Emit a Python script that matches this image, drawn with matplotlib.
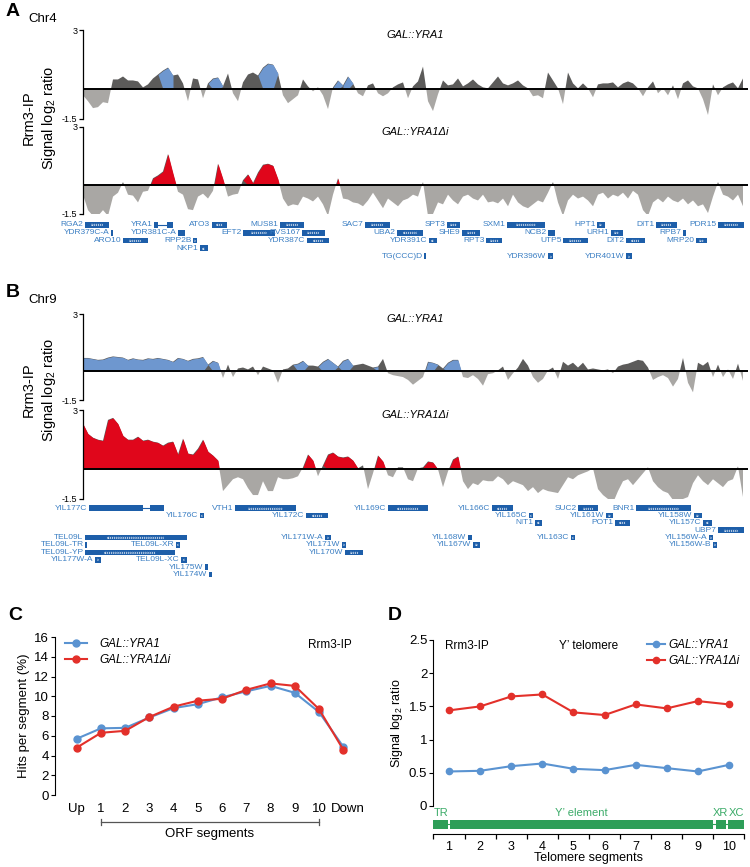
import numpy as np
import matplotlib
matplotlib.use('Agg')
import matplotlib.pyplot as plt
import matplotlib.transforms as mtrans
from matplotlib.ticker import FuncFormatter

plt.rcParams['font.family'] = ['Liberation Sans', 'DejaVu Sans']
plt.rcParams['mathtext.fontset'] = 'custom'
plt.rcParams['mathtext.rm'] = 'Liberation Sans'
plt.rcParams['mathtext.it'] = 'Liberation Sans:italic'

# ---- ChIP-chip tracks (log2 ratio, one value every 0.5 kb) ----
TRACK_START = 0.0
TRACK_STEP = 0.5

chr4_yra1 = [-0.3, -0.6, -0.95, -0.9, -0.65, -0.7,
             0.5, 0.5, 0.65, 0.45, 0.45, 0.4,
             0.1, 0.25, 0.55, 0.75, 0.95, 1.1,
             0.7, 0.75, 0.3, -0.6, 0.55, 0.5,
             -0.45, 0.3, 0.55, 0.6, 0.15, 0.8,
             -0.2, -0.6, 0.35, 0.75, 0.85, 0.7,
             1.1, 1.3, 1.25, 0.8, -0.3, -0.7,
             -0.5, -0.3, 0.5, 0.15, -0.1, 0.1,
             -0.3, -1.0, 0.1, 0.45, 0.2, 0.65,
             0.3, -0.2, -0.35, 0.2, 0.3, -0.2,
             -0.35, -0.2, 0.1, 0.25, 0.35, -0.45,
             0.15, 0.4, 1.15, -0.6, -1.1, -0.25,
             0.45, 0.2, 0.25, 0.55, 0.15, 0.3,
             0.5, 0.25, 0.1, 0.05, 0.35, 0.65,
             0.3, 0.2, 0.3, 0.45, 0.2, 0.05,
             -0.35, -0.3, -0.45, 0.85, 0.45, 0.05,
             -0.75, 0.85, 0.3, 0.05, 0.3, 0.05,
             -0.4, 0.25, 0.3, 0.3, 0.35, 0.1,
             0.3, 0.4, 0.3, 0.05, -0.35, 0.1,
             0.4, -0.2, 0.05, -0.3, 0.2, -0.5,
             0.3, 0.45, 0.15, 0.05, -0.5, -1.3,
             0.25, -0.3, 0.1, 0.25, 0.35, 0.05,
             0.55]
chr4_yra1_hits = [(7.7, 9.0), (13.0, 13.9), (17.7, 19.4), (25.2, 25.7), (26.0, 26.6)]

chr4_yra1di = [-0.5, -1.3, -1.6, -1.6, -1.3, -1.6,
               -0.6, -0.4, 0.15, -0.5, -0.55, -0.9,
               -0.35, -0.3, 0.35, 0.5, 0.7, 1.6,
               0.6, -0.35, -0.5, -1.25, -1.3, -0.6,
               -0.45, -0.7, -0.3, 1.1, 0.3, -0.6,
               -0.5, -0.45, 0.25, 0.55, 0.1, 0.65,
               1.05, 1.1, 1.0, 0.3, -0.7, -1.1,
               -1.0, -1.05, -0.6, -0.7, -0.85, -0.6,
               -1.0, -1.6, -0.5, 0.35, -0.7, -0.75,
               -0.9, -0.95, -1.1, -0.8, -0.4, -0.8,
               -1.2, -0.7, -0.9, -1.1, -0.8, -0.7,
               -0.5, -0.6, 0.15, -1.6, -1.5, -0.9,
               -1.0, -0.5, -0.8, -1.0, -0.6, -0.5,
               -0.7, -0.8, -0.5, -0.9, -0.85, -0.95,
               -0.7, -1.1, -0.5, -0.9, -1.1, -1.2,
               -1.0, -0.8, -0.9, -0.4, 0.15, -0.9,
               -1.6, -0.8, -0.5, -0.7, -0.6, -0.8,
               -1.1, -0.5, -0.4, -0.7, -0.5, -0.6,
               -0.4, -0.7, -0.3, -0.5, -1.3, -1.6,
               -0.9, -0.7, -0.9, -0.6, -0.8, -0.9,
               -0.7, -1.0, -0.8, -1.1, -1.0, -1.45,
               -0.6, 0.15, -0.5, -0.6, -0.8, -0.5,
               -1.1]
chr4_yra1di_hits = [(7.0, 9.3), (13.3, 14.2), (16.3, 19.5), (25.3, 25.8)]

chr9_yra1 = [0.7, 0.7, 0.65, 0.6, 0.62, 0.72,
             0.78, 0.75, 0.72, 0.6, 0.68, 0.62,
             0.6, 0.68, 0.65, 0.7, 0.65, 0.6,
             0.5, 0.7, 0.65, 0.55, 0.65, 0.68,
             0.75, 0.35, 0.55, 0.45, -0.35, 0.35,
             -0.3, 0.15, 0.2, 0.1, 0.25, -0.2,
             0.25, 0.15, 0.05, -0.6, 0.1, 0.15,
             0.35, 0.4, 0.55, 0.3, 0.3, 0.25,
             0.5, 0.65, 0.45, 0.25, 0.55, 0.65,
             0.3, 0.35, 0.4, 0.3, 0.2, 0.25,
             0.65, -0.1, -0.2, -0.25, -0.3, -0.45,
             -0.7, -0.5, -0.3, 0.5, 0.45, 0.35,
             0.15, 0.45, 0.6, 0.6, -0.3, -0.35,
             -0.2, -0.4, -0.75, -0.15, -0.1, 0.05,
             0.25, -0.45, -0.1, 0.2, 0.65, 0.3,
             -0.3, -0.6, -0.4, 0.05, 0.2, -0.4,
             0.5, 0.3, 0.45, 0.2, 0.45, 0.1,
             0.15, 0.1, 0.05, 0.1, -0.1, 0.25,
             0.35, 0.4, 0.5, 0.6, 0.55, 0.2,
             -0.45, -0.3, -0.2, -0.35, -0.8, -0.4,
             0.7, -0.6, -1.1, 0.45, 0.3, 0.5,
             -0.3, 0.35, -0.3, 0.1, -0.4, 0.4,
             -0.5]
chr9_yra1_hits = [(0, 12.3), (12.8, 13.8), (21.3, 22.3), (23.8, 25.0), (25.8, 26.8),
                  (29.3, 29.8), (34.2, 35.3), (36.2, 37.7)]

chr9_yra1di = [2.3, 1.8, 1.6, 1.5, 1.45, 2.5,
               2.6, 2.3, 1.7, 1.5, 1.5, 1.65,
               1.45, 1.5, 1.4, 1.35, 1.2, 1.35,
               1.4, 0.75, 1.55, 0.8, 0.75, 1.05,
               1.5, 0.9, 0.7, 0.45, -1.1, -0.8,
               -0.5, -0.4, -0.5, -0.95, -1.3, -1.3,
               -0.6, -1.1, -1.1, -0.4, -0.5, -0.5,
               -0.45, -0.35, 0.1, 0.75, 0.45, -0.35,
               0.2, 0.75, 0.85, 0.65, 0.6, 0.65,
               0.45, 0.05, 0.2, -1.0, -0.2, 0.7,
               0.4, -0.3, -0.4, 0.1, 0.1, -0.5,
               -0.6, 0.05, 0.1, 0.4, 0.35, 0.0,
               -0.9, -0.1, 0.5, 0.65, -0.6, -1.0,
               -0.7, -0.8, -0.55, -0.6, -0.6, -0.35,
               -0.5, -0.8, -0.6, -0.7, -0.8, -1.1,
               -0.9, -1.2, -1.0, -1.1, -1.15, -1.2,
               -0.8, -0.4, -0.5, -0.3, -0.2, -0.1,
               0.05, -1.0, -1.3, -1.5, -1.7, -1.1,
               -0.6, -0.5, -0.8, -0.5, -0.2, 0.1,
               -0.6, -0.9, -1.1, -1.2, -1.55, -1.6,
               -1.5, -1.4, -0.7, -0.3, -0.6, -0.8,
               -0.5, -0.7, -0.9, -0.6, -0.5, 0.15,
               -1.4]
chr9_yra1di_hits = [(0, 13.8), (22.2, 23.3), (24.2, 27.4), (29.3, 30.3), (34.2, 35.3), (36.8, 37.8)]

# ---- gene annotations (kb, row, strand) ----
chr4_genes = ['RGA2', 'YDR379C-A', 'ARO10', 'YRA1', 'YDR381C-A', 'RPP2B', 'NKP1', 'ATO3',
              'EFT2', 'MUS81', 'RVS167', 'YDR387C', 'SAC7', 'UBA2', 'YDR391C', 'TG(CCC)D',
              'SPT3', 'SHE9', 'RPT3', 'SXM1', 'NCB2', 'YDR396W', 'UTP5', 'HPT1', 'URH1',
              'DIT2', 'YDR401W', 'DIT1', 'RPB7', 'MRP20', 'PDR15']
chr4_start = [0.2, 2.8, 4.0, 7.1, 9.5, 11.0, 11.7, 12.9, 16.0, 19.7, 21.9, 22.4, 28.2, 31.4,
              34.6, 34.1, 36.4, 37.9, 40.3, 42.4, 46.5, 46.5, 48.0, 51.4, 52.8, 54.3, 54.3,
              57.3, 60.0, 61.3, 63.5]
chr4_end = [2.6, 3.0, 6.5, 9.0, 10.2, 11.4, 12.5, 14.4, 19.2, 22.1, 24.2, 24.6, 30.7, 34.0,
            35.4, 34.25, 37.7, 39.7, 41.9, 46.2, 47.2, 47.0, 50.5, 52.2, 54.0, 56.2, 54.9,
            59.4, 60.3, 62.4, 66.1]
chr4_row = [0, 1, 2, 0, 1, 2, 3, 0, 1, 0, 1, 2, 0, 1, 2, 4, 0, 1, 2, 0, 1, 4, 2, 0, 1, 2, 4,
            0, 1, 2, 0]
chr4_strand = ['+', '+', '+', '+', '', '+', '-', '-', '+', '+', '+', '-', '+', '-', '-', '',
               '+', '+', '+', '+', '', '+', '+', '+', '+', '-', '+', '+', '-', '+', '+']
chr4_introns = {'YRA1': (7.5, 8.4)}

chr9_genes = ['YIL177C', 'YIL176C', 'VTH1', 'YIL172C', 'YIL169C', 'YIL166C', 'YIL165C', 'NIT1',
              'SUC2', 'YIL161W', 'POT1', 'BNR1', 'YIL158W', 'YIL157C', 'UBP7',
              'TEL09L', 'TEL09L-TR', 'TEL09L-XR', 'TEL09L-YP', 'YIL177W-A', 'TEL09L-XC',
              'YIL175W', 'YIL174W', 'YIL171W-A', 'YIL171W', 'YIL170W', 'YIL168W', 'YIL167W',
              'YIL163C', 'YIL156W-A', 'YIL156W-B']
chr9_start = [0.6, 11.7, 15.2, 22.3, 30.5, 40.9, 44.6, 45.2, 49.5, 52.3, 53.2, 55.3, 61.1,
              62.0, 63.5, 0.2, 0.2, 9.3, 0.2, 1.2, 9.8, 12.2, 12.6, 24.2, 25.9, 26.2, 38.5,
              39.0, 48.8, 62.6, 63.0]
chr9_end = [8.1, 12.1, 21.3, 24.5, 34.5, 43.0, 45.0, 45.9, 51.5, 53.0, 54.7, 60.8, 61.9,
            62.9, 66.1, 10.4, 0.35, 9.7, 9.2, 1.8, 10.4, 12.5, 12.9, 24.8, 26.3, 28.0, 38.9,
            39.7, 49.2, 63.0, 63.4]
chr9_row = [0, 1, 0, 1, 0, 0, 1, 2, 0, 1, 2, 0, 1, 2, 3, 4, 5, 5, 6, 7, 7, 8, 9, 4, 5, 6,
            4, 5, 4, 4, 5]
chr9_strand = ['', '-', '+', '-', '-', '-', '-', '-', '+', '+', '-', '+', '+', '-', '+',
               '-', '', '-', '-', '+', '-', '', '', '+', '+', '+', '', '+', '-', '+', '+']
chr9_introns = {'YIL177C': (6.0, 6.7)}

# ---- panel C: gene-body profile ----
c_segments = ['Up', '1', '2', '3', '4', '5', '6', '7', '8', '9', '10', 'Down']
c_yra1 = [5.7, 6.75, 6.8, 7.85, 8.8, 9.2, 9.9, 10.5, 11.05, 10.35, 8.4, 4.9]
c_yra1di = [4.8, 6.3, 6.5, 7.9, 8.95, 9.55, 9.75, 10.65, 11.3, 11.05, 8.7, 4.6]

# ---- panel D: Y' telomere profile ----
d_segments = [1, 2, 3, 4, 5, 6, 7, 8, 9, 10]
d_yra1 = [0.52, 0.53, 0.60, 0.64, 0.56, 0.54, 0.62, 0.57, 0.52, 0.62]
d_yra1di = [1.44, 1.50, 1.65, 1.68, 1.41, 1.37, 1.53, 1.47, 1.58, 1.53]
d_elements = ['TR', 'Y\u2019 element', 'XR', 'XC']
d_elem_start = [0.5, 1.03, 9.58, 9.96]
d_elem_end = [0.97, 9.49, 9.9, 10.5]

W, H = 750, 867
GRAY_POS = '#5c5b5a'
GRAY_NEG = '#a9a7a4'
BLUE_HIT = '#6e97cf'
RED_HIT = '#e0061b'
GENE_BOX = '#1d5ea9'
GENE_TXT = '#3b7fc3'
LINE_BLUE = '#5a93d1'
LINE_RED = '#e3302a'
GREEN = '#2e9e58'


def fbox(x0, y0, x1, y1):
    return [x0 / W, 1 - y1 / H, (x1 - x0) / W, (y1 - y0) / H]


def ftext(fig, x, y, s, **kw):
    fig.text(x / W, 1 - y / H, s, **kw)


def gfmt(v, pos):
    return '%g' % v


def draw_track(ax, vals, hits, hit_color, title):
    vals = np.asarray(vals, dtype=float)
    pos = TRACK_START + TRACK_STEP * np.arange(len(vals))
    ax.fill_between(pos, vals, 0, where=vals >= 0, interpolate=True, color=GRAY_POS, lw=0)
    for a, b in hits:
        m = (pos >= a) & (pos <= b) & (vals >= 0)
        ax.fill_between(pos, vals, 0, where=m, interpolate=True, color=hit_color, lw=0)
    ax.fill_between(pos, vals, 0, where=vals <= 0, interpolate=True, color=GRAY_NEG, lw=0)
    ax.axhline(0, color='black', lw=1.4)
    ax.set_xlim(0, 66.5)
    ax.set_ylim(-1.5, 3)
    for s in ['top', 'right', 'bottom']:
        ax.spines[s].set_visible(False)
    ax.spines['left'].set_linewidth(0.9)
    ax.set_xticks([])
    ax.set_yticks([-1.5, 3])
    ax.yaxis.set_major_formatter(FuncFormatter(gfmt))
    ax.tick_params(axis='y', labelsize=6.5, length=3, width=0.9, pad=1)
    ax.text(0.5, 0.945, title, transform=ax.transAxes, ha='center', va='center',
            fontsize=8, style='italic')


def draw_genes(ax, names, starts, ends, rows, strands, introns, nrows):
    for name, s, e, r, st in zip(names, starts, ends, rows, strands):
        if name in introns:
            i0, i1 = introns[name]
            ax.plot([i0, i1], [r, r], color=GENE_BOX, lw=0.8)
            ax.barh(r, i0 - s, left=s, height=0.75, color=GENE_BOX, lw=0)
            ax.barh(r, e - i1, left=i1, height=0.75, color=GENE_BOX, lw=0)
        else:
            ax.barh(r, e - s, left=s, height=0.75, color=GENE_BOX, lw=0)
            n = int((e - s) * 10 / 3.2)
            if st and n > 0:
                ch = '\u203a' if st == '+' else '\u2039'
                ax.text((s + e) / 2, r, ch * n, color='white', fontsize=4,
                        ha='center', va='center', fontweight='bold')
        ax.text(s - 0.15, r, name, ha='right', va='center', fontsize=6, color=GENE_TXT)
    ax.set_xlim(0, 66.5)
    ax.set_ylim(nrows - 0.5, -0.5)
    ax.axis('off')


def main():
    fig = plt.figure(figsize=(W / 100, H / 100), dpi=100)

    # ---------- panel A ----------
    ftext(fig, 6, 12, 'A', fontsize=14, fontweight='bold', va='center')
    ftext(fig, 28, 19, 'Chr4', fontsize=9.5, va='center')
    ax = fig.add_axes(fbox(83, 30, 748, 119))
    draw_track(ax, chr4_yra1, chr4_yra1_hits, BLUE_HIT, 'GAL::YRA1')
    ax = fig.add_axes(fbox(83, 127, 748, 214))
    draw_track(ax, chr4_yra1di, chr4_yra1di_hits, RED_HIT, 'GAL::YRA1\u0394i')
    ftext(fig, 40, 118, 'Rrm3-IP\nSignal log$_2$ ratio', rotation=90, ha='center',
          va='center', multialignment='center', fontsize=10.5, linespacing=1.3)
    ax = fig.add_axes(fbox(83, 221.1, 748, 259.9))
    draw_genes(ax, chr4_genes, chr4_start, chr4_end, chr4_row, chr4_strand, chr4_introns, 5)

    # ---------- panel B ----------
    ftext(fig, 6, 293, 'B', fontsize=14, fontweight='bold', va='center')
    ftext(fig, 28, 300, 'Chr9', fontsize=9.5, va='center')
    ax = fig.add_axes(fbox(83, 314, 748, 400))
    draw_track(ax, chr9_yra1, chr9_yra1_hits, BLUE_HIT, 'GAL::YRA1')
    ax = fig.add_axes(fbox(83, 410, 748, 499))
    draw_track(ax, chr9_yra1di, chr9_yra1di_hits, RED_HIT, 'GAL::YRA1\u0394i')
    ftext(fig, 40, 390, 'Rrm3-IP\nSignal log$_2$ ratio', rotation=90, ha='center',
          va='center', multialignment='center', fontsize=10.5, linespacing=1.3)
    ax = fig.add_axes(fbox(83, 504.3, 748, 578.3))
    draw_genes(ax, chr9_genes, chr9_start, chr9_end, chr9_row, chr9_strand, chr9_introns, 10)

    # ---------- panel C ----------
    ftext(fig, 8, 616, 'C', fontsize=14, fontweight='bold', va='center')
    ax = fig.add_axes(fbox(55, 637, 365, 795))
    x = np.arange(len(c_segments))
    ax.plot(x, c_yra1, '-o', color=LINE_BLUE, lw=1.5, ms=5, label='GAL::YRA1')
    ax.plot(x, c_yra1di, '-o', color=LINE_RED, lw=1.5, ms=5, label='GAL::YRA1\u0394i')
    ax.set_xlim(-0.9, 11.9)
    ax.set_ylim(0, 16)
    ax.set_yticks(range(0, 17, 2))
    ax.set_xticks(x)
    ax.set_xticklabels(c_segments)
    for s in ['top', 'right', 'bottom']:
        ax.spines[s].set_visible(False)
    ax.tick_params(axis='x', length=0, pad=6, labelsize=9.5)
    ax.tick_params(axis='y', length=3, labelsize=9.5, pad=1.5)
    # nudge the "Down" label clear of "10"
    lab = ax.get_xticklabels()[-1]
    lab.set_transform(lab.get_transform() + mtrans.ScaledTranslation(5 / 100, 0, fig.dpi_scale_trans))
    ax.set_ylabel('Hits per segment (%)', fontsize=9.5, labelpad=3)
    tr = ax.get_xaxis_transform()
    ax.plot([1, 10], [-0.171, -0.171], color='#555555', lw=0.9, transform=tr, clip_on=False)
    for xe in [1, 10]:
        ax.plot([xe, xe], [-0.15, -0.192], color='#555555', lw=0.9, transform=tr, clip_on=False)
    ax.text(5.5, -0.245, 'ORF segments', transform=tr, ha='center', va='center', fontsize=9.5)
    leg = ax.legend(loc='upper left', bbox_to_anchor=(65 / W, 1 - 638 / H),
                    bbox_transform=fig.transFigure, frameon=False, fontsize=8.5,
                    handlelength=1.9, handletextpad=1.0, labelspacing=0.35,
                    borderpad=0, borderaxespad=0)
    for t in leg.get_texts():
        t.set_style('italic')
    ftext(fig, 352, 645, 'Rrm3-IP', ha='right', va='center', fontsize=8.5)

    # ---------- panel D ----------
    ftext(fig, 388, 616, 'D', fontsize=14, fontweight='bold', va='center')
    ax = fig.add_axes(fbox(433.5, 640, 744.5, 806))
    ax.plot(d_segments, d_yra1, '-o', color=LINE_BLUE, lw=1.5, ms=4.5, label='GAL::YRA1')
    ax.plot(d_segments, d_yra1di, '-o', color=LINE_RED, lw=1.5, ms=4.5, label='GAL::YRA1\u0394i')
    ax.set_xlim(0.5, 10.5)
    ax.set_ylim(0, 2.5)
    ax.set_yticks([0, 0.5, 1, 1.5, 2, 2.5])
    ax.yaxis.set_major_formatter(FuncFormatter(gfmt))
    ax.set_xticks([])
    for s in ['top', 'right', 'bottom']:
        ax.spines[s].set_visible(False)
    ax.tick_params(axis='y', length=3, labelsize=9.5, pad=1.5)
    ax.set_ylabel('Signal log$_2$ ratio', fontsize=9, labelpad=3)
    leg = ax.legend(loc='upper left', bbox_to_anchor=(647 / W, 1 - 639 / H),
                    bbox_transform=fig.transFigure, frameon=False, fontsize=8.5,
                    handlelength=1.5, handletextpad=0.3, labelspacing=0.35,
                    borderpad=0, borderaxespad=0)
    for t in leg.get_texts():
        t.set_style('italic')
    ftext(fig, 445, 646, 'Rrm3-IP', ha='left', va='center', fontsize=8.5)
    ftext(fig, 589, 646, 'Y\u2019 telomere', ha='center', va='center', fontsize=8.5)

    # Y' telomere structure + segment axis
    bx = fig.add_axes(fbox(433.5, 810, 744.5, 834))
    bx.set_xlim(0.5, 10.5)
    bx.set_ylim(0, 1)
    bx.plot([0.5, 10.5], [0.4, 0.4], color=GREEN, lw=0.8)
    for name, s, e in zip(d_elements, d_elem_start, d_elem_end):
        bx.barh(0.4, e - s, left=s, height=0.38, color=GREEN, lw=0)
        bx.text((s + e) / 2, 0.86, name, ha='center', va='center', fontsize=8,
                color='#3bab68')
    for s in ['top', 'right', 'left']:
        bx.spines[s].set_visible(False)
    bx.set_yticks([])
    bx.set_xticks(d_segments)
    bx.set_xticks(np.arange(0.5, 11, 1), minor=True)
    bx.tick_params(axis='x', which='major', length=0, pad=5, labelsize=9)
    bx.tick_params(axis='x', which='minor', length=3.5, width=0.9)
    ftext(fig, 589, 858, 'Telomere segments', ha='center', va='center', fontsize=9)

    fig.savefig('out.png', dpi=100)


main()
